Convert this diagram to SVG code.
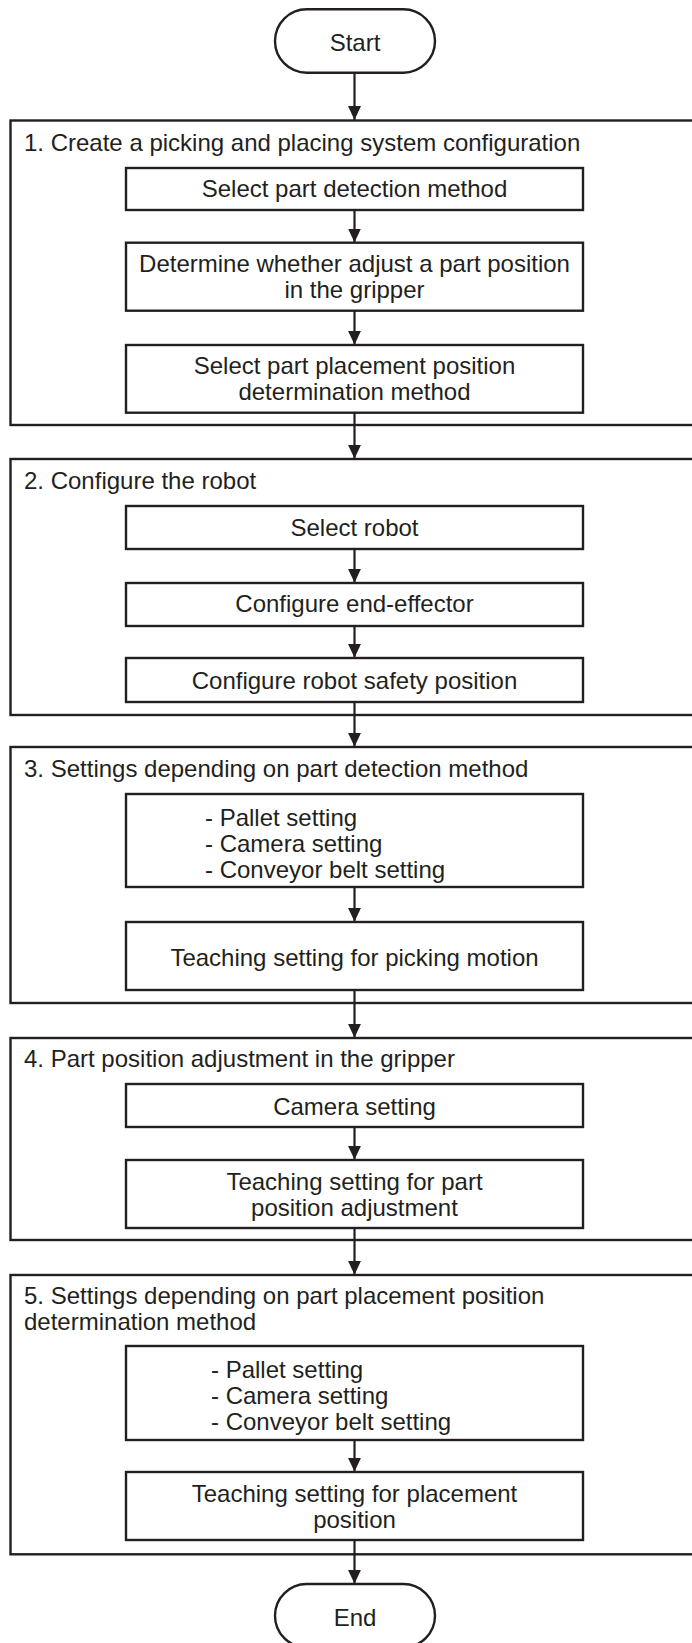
<svg xmlns="http://www.w3.org/2000/svg" width="692" height="1643" viewBox="0 0 692 1643">
<defs>
<style>
.box{fill:#fff;stroke:#231f20;stroke-width:2.4}
.grp{fill:none;stroke:#231f20;stroke-width:2.4}
.t{font-family:"Liberation Sans",Arial,sans-serif;font-size:24px;fill:#231f20}
.c{text-anchor:middle}
.ln{stroke:#231f20;stroke-width:2.2;fill:none;marker-end:url(#ah)}
</style>
<marker id="ah" markerWidth="14" markerHeight="13" refX="14" refY="6.5" orient="auto" markerUnits="userSpaceOnUse" viewBox="0 0 14 13">
<path d="M0,0 L14,6.5 L0,13 Z" fill="#231f20"/>
</marker>
</defs>
<rect width="692" height="1643" fill="#fff"/>

<g id="connectors">
<line class="ln" x1="354.5" y1="72.7" x2="354.5" y2="120"/>
<line class="ln" x1="354.5" y1="210" x2="354.5" y2="242.5"/>
<line class="ln" x1="354.5" y1="310.7" x2="354.5" y2="344.8"/>
<line class="ln" x1="354.5" y1="412.7" x2="354.5" y2="458.8"/>
<line class="ln" x1="354.5" y1="549" x2="354.5" y2="582.8"/>
<line class="ln" x1="354.5" y1="626" x2="354.5" y2="657.8"/>
<line class="ln" x1="354.5" y1="702" x2="354.5" y2="746.8"/>
<line class="ln" x1="354.5" y1="887" x2="354.5" y2="921.8"/>
<line class="ln" x1="354.5" y1="990" x2="354.5" y2="1037.8"/>
<line class="ln" x1="354.5" y1="1127" x2="354.5" y2="1159.8"/>
<line class="ln" x1="354.5" y1="1228" x2="354.5" y2="1274.8"/>
<line class="ln" x1="354.5" y1="1440" x2="354.5" y2="1471.8"/>
<line class="ln" x1="354.5" y1="1540" x2="354.5" y2="1583.8"/>
</g>

<g id="start">
<rect class="box" x="275" y="9.3" width="160" height="63.4" rx="31.7" ry="31.7"/>
<text class="t c" x="355" y="51">Start</text>
</g>

<g id="stage1">
<rect class="grp" x="10.5" y="120.5" width="700" height="304.5"/>
<text class="t" x="24" y="151">1. Create a picking and placing system configuration</text>
</g>
<g id="n1a">
<rect class="box" x="126" y="168" width="457" height="42"/>
<text class="t c" x="354.5" y="197">Select part detection method</text>
</g>
<g id="n1b">
<rect class="box" x="126" y="242.7" width="457" height="68"/>
<text class="t c" x="354.5" y="272">Determine whether adjust a part position</text>
<text class="t c" x="354.5" y="298">in the gripper</text>
</g>
<g id="n1c">
<rect class="box" x="126" y="345" width="457" height="67.7"/>
<text class="t c" x="354.5" y="374">Select part placement position</text>
<text class="t c" x="354.5" y="400">determination method</text>
</g>

<g id="stage2">
<rect class="grp" x="10.5" y="459" width="700" height="256"/>
<text class="t" x="24" y="489">2. Configure the robot</text>
</g>
<g id="n2a">
<rect class="box" x="126" y="506" width="457" height="43"/>
<text class="t c" x="354.5" y="536">Select robot</text>
</g>
<g id="n2b">
<rect class="box" x="126" y="583" width="457" height="43"/>
<text class="t c" x="354.5" y="612">Configure end-effector</text>
</g>
<g id="n2c">
<rect class="box" x="126" y="658" width="457" height="44"/>
<text class="t c" x="354.5" y="689">Configure robot safety position</text>
</g>

<g id="stage3">
<rect class="grp" x="10.5" y="747" width="700" height="256"/>
<text class="t" x="24" y="777">3. Settings depending on part detection method</text>
</g>
<g id="n3a">
<rect class="box" x="126" y="794" width="457" height="93"/>
<text class="t" x="205" y="826">- Pallet setting</text>
<text class="t" x="205" y="852">- Camera setting</text>
<text class="t" x="205" y="878">- Conveyor belt setting</text>
</g>
<g id="n3b">
<rect class="box" x="126" y="922" width="457" height="68"/>
<text class="t c" x="354.5" y="966">Teaching setting for picking motion</text>
</g>

<g id="stage4">
<rect class="grp" x="10.5" y="1038" width="700" height="202"/>
<text class="t" x="24" y="1067">4. Part position adjustment in the gripper</text>
</g>
<g id="n4a">
<rect class="box" x="126" y="1084" width="457" height="43"/>
<text class="t c" x="354.5" y="1115">Camera setting</text>
</g>
<g id="n4b">
<rect class="box" x="126" y="1160" width="457" height="68"/>
<text class="t c" x="354.5" y="1190">Teaching setting for part</text>
<text class="t c" x="354.5" y="1216">position adjustment</text>
</g>

<g id="stage5">
<rect class="grp" x="10.5" y="1275" width="700" height="279.3"/>
<text class="t" x="24" y="1304">5. Settings depending on part placement position</text>
<text class="t" x="24" y="1330">determination method</text>
</g>
<g id="n5a">
<rect class="box" x="126" y="1346" width="457" height="94"/>
<text class="t" x="211" y="1378">- Pallet setting</text>
<text class="t" x="211" y="1404">- Camera setting</text>
<text class="t" x="211" y="1430">- Conveyor belt setting</text>
</g>
<g id="n5b">
<rect class="box" x="126" y="1472" width="457" height="68"/>
<text class="t c" x="354.5" y="1502">Teaching setting for placement</text>
<text class="t c" x="354.5" y="1528">position</text>
</g>

<g id="end">
<rect class="box" x="275" y="1584" width="160" height="63.4" rx="31.7" ry="31.7"/>
<text class="t c" x="355" y="1626">End</text>
</g>
</svg>
